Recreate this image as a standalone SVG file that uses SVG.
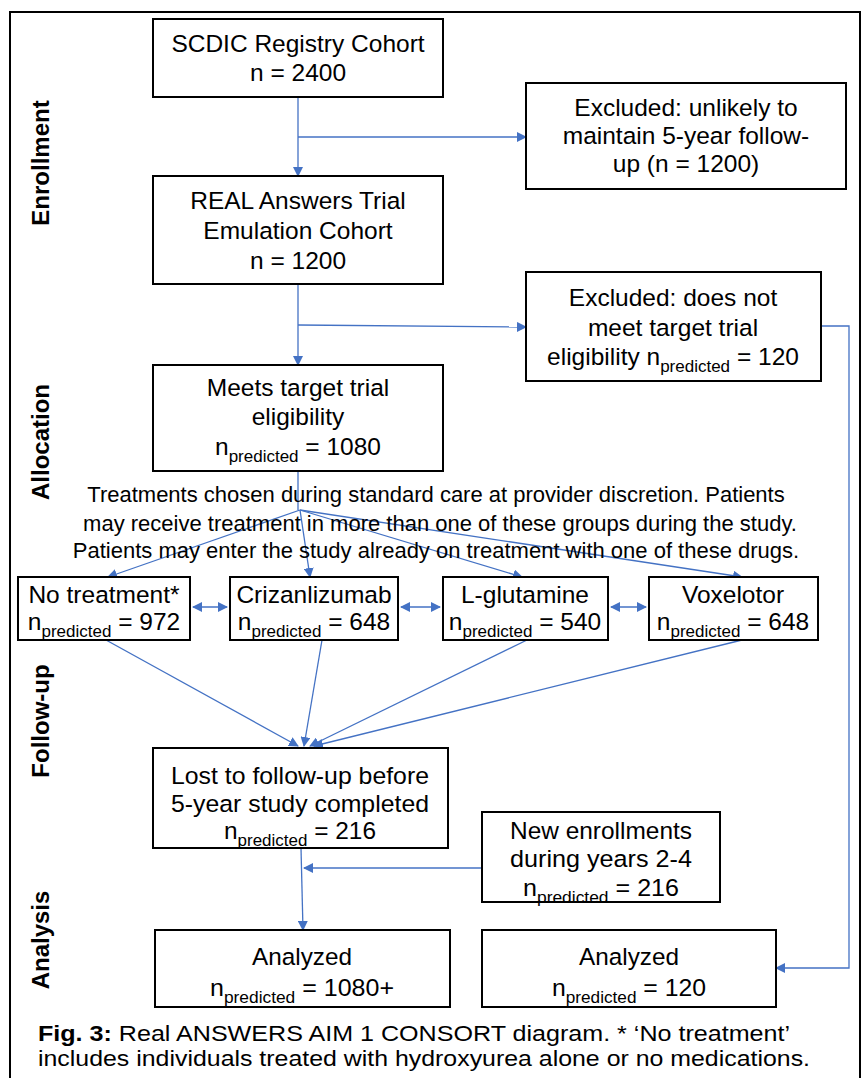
<svg xmlns="http://www.w3.org/2000/svg" width="864" height="1078" viewBox="0 0 864 1078">
<defs>
<marker id="ah" markerWidth="10" markerHeight="10" refX="9" refY="5" orient="auto" markerUnits="userSpaceOnUse">
<path d="M0,0 L10,5 L0,10 Z" fill="#4472C4"/>
</marker>
<marker id="ahs" markerWidth="10" markerHeight="10" refX="1" refY="5" orient="auto" markerUnits="userSpaceOnUse">
<path d="M10,0 L0,5 L10,10 Z" fill="#4472C4"/>
</marker>
<style>
.box{fill:#fff;stroke:#000;stroke-width:2}
.t{font-family:"Liberation Sans",Arial,sans-serif;font-size:24.5px;fill:#000;text-anchor:middle}
.tn{font-family:"Liberation Sans",Arial,sans-serif;font-size:22px;fill:#000;text-anchor:middle}
.sub{font-size:17px}
.lab{font-family:"Liberation Sans",Arial,sans-serif;font-size:24px;font-weight:bold;fill:#000;text-anchor:middle}
.c{stroke:#4472C4;stroke-width:1.3;fill:none}
.ca{stroke:#4472C4;stroke-width:1.3;fill:none;marker-end:url(#ah)}
.cap{font-family:"Liberation Sans",Arial,sans-serif;font-size:22px;fill:#000}
</style>
</defs>
<rect width="864" height="1078" fill="#fff"/>
<rect x="10" y="12" width="850" height="1080" fill="none" stroke="#000" stroke-width="2"/>

<g id="labels">
<text class="lab" transform="translate(49,163) rotate(-90)">Enrollment</text>
<text class="lab" transform="translate(49,442) rotate(-90)">Allocation</text>
<text class="lab" transform="translate(49,721) rotate(-90)">Follow-up</text>
<text class="lab" transform="translate(49,940) rotate(-90)">Analysis</text>
</g>

<g id="connectors">
<path class="ca" d="M298,97 V176"/>
<path class="ca" d="M298,137 H526"/>
<path class="ca" d="M298,284 V365"/>
<path class="ca" d="M298,325 L526,327"/>
<path class="ca" d="M821,326 H849 V968 H776"/>
<path class="c" d="M298,471 V510"/>
<path class="ca" d="M300,510 L108,577"/>
<path class="ca" d="M300,510 L310,577"/>
<path class="ca" d="M300,510 L522,577"/>
<path class="ca" d="M300,510 L742,577"/>
<path class="c" d="M193,607 H227" marker-start="url(#ahs)" marker-end="url(#ah)"/>
<path class="c" d="M401,607 H440" marker-start="url(#ahs)" marker-end="url(#ah)"/>
<path class="c" d="M611,607 H646" marker-start="url(#ahs)" marker-end="url(#ah)"/>
<path class="ca" d="M106,640 L298,746"/>
<path class="ca" d="M322,640 L304,746"/>
<path class="ca" d="M527,640 L310,746"/>
<path class="ca" d="M742,640 L314,746"/>
<path class="ca" d="M301,848 L303,930"/>
<path class="ca" d="M482,868 H304"/>
</g>

<g id="scdic">
<rect class="box" x="153" y="19" width="290" height="78"/>
<text class="t" x="298" y="52">SCDIC Registry Cohort</text>
<text class="t" x="298" y="81">n = 2400</text>
</g>

<g id="excluded1">
<rect class="box" x="526" y="83" width="320" height="106"/>
<text class="t" x="686" y="116">Excluded:  unlikely to</text>
<text class="t" x="686" y="144">maintain 5-year follow-</text>
<text class="t" x="686" y="172">up (n = 1200)</text>
</g>

<g id="real">
<rect class="box" x="153" y="176" width="290" height="108"/>
<text class="t" x="298" y="209">REAL Answers Trial</text>
<text class="t" x="298" y="239">Emulation Cohort</text>
<text class="t" x="298" y="269">n = 1200</text>
</g>

<g id="excluded2">
<rect class="box" x="526" y="272" width="295" height="109"/>
<text class="t" x="673" y="306">Excluded:  does not</text>
<text class="t" x="673" y="336">meet target trial</text>
<text class="t" x="673" y="365">eligibility n<tspan class="sub" dy="7">predicted</tspan><tspan dy="-7"> = 120</tspan></text>
</g>

<g id="meets">
<rect class="box" x="153" y="365" width="290" height="106"/>
<text class="t" x="298" y="396">Meets target trial</text>
<text class="t" x="298" y="425">eligibility</text>
<text class="t" x="298" y="455">n<tspan class="sub" dy="7">predicted</tspan><tspan dy="-7"> = 1080</tspan></text>
</g>

<g id="treatments-note">
<text class="tn" x="436" y="502">Treatments chosen during standard care at provider discretion. Patients</text>
<text class="tn" x="440" y="531">may receive treatment in more than one of these groups during the study.</text>
<text class="tn" x="436" y="558">Patients may enter the study already on treatment with one of these drugs.</text>
</g>

<g id="notreatment">
<rect class="box" x="18" y="577" width="172" height="63"/>
<text class="t" x="104" y="603">No treatment*</text>
<text class="t" x="104" y="630">n<tspan class="sub" dy="7">predicted</tspan><tspan dy="-7"> = 972</tspan></text>
</g>

<g id="crizanlizumab">
<rect class="box" x="230" y="577" width="168" height="63"/>
<text class="t" x="314" y="603">Crizanlizumab</text>
<text class="t" x="314" y="630">n<tspan class="sub" dy="7">predicted</tspan><tspan dy="-7"> = 648</tspan></text>
</g>

<g id="lglutamine">
<rect class="box" x="443" y="577" width="165" height="63"/>
<text class="t" x="525" y="603">L-glutamine</text>
<text class="t" x="525" y="630">n<tspan class="sub" dy="7">predicted</tspan><tspan dy="-7"> = 540</tspan></text>
</g>

<g id="voxelotor">
<rect class="box" x="649" y="577" width="169" height="63"/>
<text class="t" x="733" y="603">Voxelotor</text>
<text class="t" x="733" y="630">n<tspan class="sub" dy="7">predicted</tspan><tspan dy="-7"> = 648</tspan></text>
</g>

<g id="lost">
<rect class="box" x="153" y="748" width="295" height="100"/>
<text class="t" x="300" y="784" textLength="258" lengthAdjust="spacingAndGlyphs">Lost to follow-up before</text>
<text class="t" x="300" y="812" textLength="258" lengthAdjust="spacingAndGlyphs">5-year study completed</text>
<text class="t" x="300" y="839" textLength="152" lengthAdjust="spacingAndGlyphs">n<tspan class="sub" dy="7">predicted</tspan><tspan dy="-7"> = 216</tspan></text>
</g>

<g id="newenroll">
<rect class="box" x="482" y="812" width="238" height="90"/>
<text class="t" x="601" y="839" textLength="182" lengthAdjust="spacingAndGlyphs">New enrollments</text>
<text class="t" x="601" y="867" textLength="182" lengthAdjust="spacingAndGlyphs">during years 2-4</text>
<text class="t" x="601" y="896" textLength="156" lengthAdjust="spacingAndGlyphs">n<tspan class="sub" dy="7">predicted</tspan><tspan dy="-7"> = 216</tspan></text>
</g>

<g id="analyzed1">
<rect class="box" x="155" y="930" width="295" height="77"/>
<text class="t" x="302" y="965" textLength="100" lengthAdjust="spacingAndGlyphs">Analyzed</text>
<text class="t" x="302" y="996" textLength="184" lengthAdjust="spacingAndGlyphs">n<tspan class="sub" dy="7">predicted</tspan><tspan dy="-7"> = 1080+</tspan></text>
</g>

<g id="analyzed2">
<rect class="box" x="482" y="930" width="294" height="77"/>
<text class="t" x="629" y="965" textLength="100" lengthAdjust="spacingAndGlyphs">Analyzed</text>
<text class="t" x="629" y="996" textLength="154" lengthAdjust="spacingAndGlyphs">n<tspan class="sub" dy="7">predicted</tspan><tspan dy="-7"> = 120</tspan></text>
</g>

<g id="caption">
<text class="cap" x="38" y="1041" textLength="752" lengthAdjust="spacingAndGlyphs"><tspan font-weight="bold">Fig. 3:</tspan> Real ANSWERS AIM 1 CONSORT diagram. * ‘No treatment’</text>
<text class="cap" x="38" y="1066" textLength="772" lengthAdjust="spacingAndGlyphs">includes individuals treated with hydroxyurea alone or no medications.</text>
</g>
</svg>
